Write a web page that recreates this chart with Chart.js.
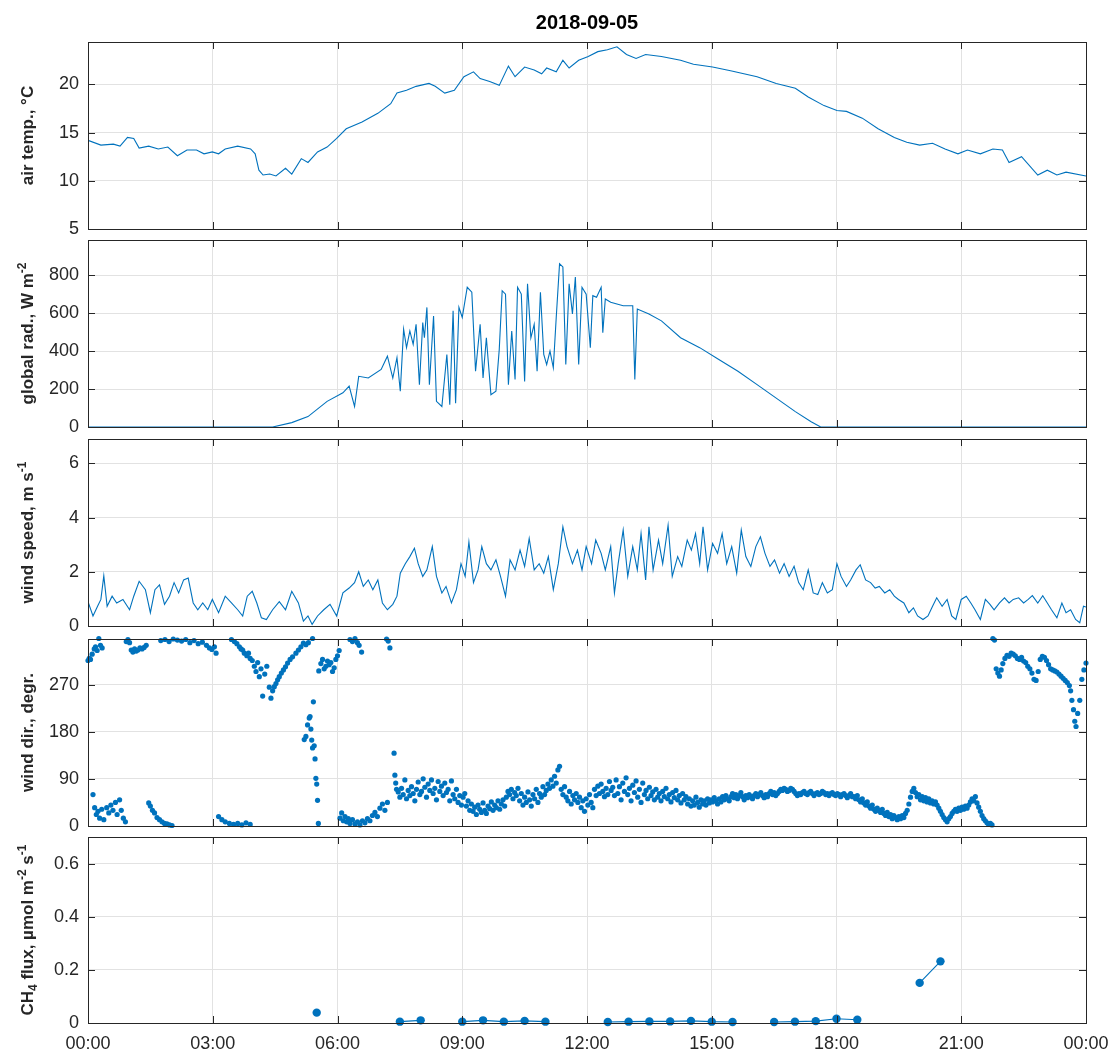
<!DOCTYPE html>
<html><head><meta charset="utf-8">
<script src="https://cdn.jsdelivr.net/npm/chart.js@4/dist/chart.umd.min.js"></script>
<style>
html,body{margin:0;padding:0;background:#fff;}
#wrap{position:relative;width:1112px;height:1056px;}
#wrap canvas{position:absolute;left:0;top:0;}
</style></head><body>
<div id="wrap">
<canvas id="p1" width="1112" height="1056"></canvas>
<canvas id="p2" width="1112" height="1056"></canvas>
<canvas id="p3" width="1112" height="1056"></canvas>
<canvas id="p4" width="1112" height="1056"></canvas>
<canvas id="p5" width="1112" height="1056"></canvas>
</div>
<script>
// ---------------- DATA (hours of the day) ----------------
const chartTitle = '2018-09-05';
const xTickLabels = ['00:00','03:00','06:00','09:00','12:00','15:00','18:00','21:00','00:00'];

// air temperature, °C
const airHours = [0,0.31,0.61,0.77,0.95,1.1,1.23,1.46,1.69,1.92,
  2.15,2.38,2.61,2.79,2.99,3.14,3.3,3.6,3.91,4.02,
  4.11,4.21,4.37,4.52,4.75,4.9,5.13,5.29,5.52,5.75,
  5.98,6.21,6.59,6.97,7.28,7.43,7.66,7.89,8.2,8.35,
  8.58,8.81,9.04,9.27,9.43,9.66,9.89,10.11,10.27,10.5,
  10.73,10.91,11.03,11.26,11.42,11.57,11.8,12.03,12.26,12.49,
  12.72,12.95,13.18,13.41,13.79,14.25,14.56,15.02,15.48,16.09,
  16.55,17.01,17.32,17.7,18.01,18.24,18.62,19.0,19.39,19.69,
  20.0,20.31,20.61,20.92,21.15,21.46,21.76,21.99,22.15,22.45,
  22.84,23.07,23.3,23.52,24];
const airTemp = [14.2,13.7,13.8,13.6,14.5,14.4,13.4,13.6,13.3,13.5,
  12.6,13.2,13.2,12.8,13.0,12.8,13.3,13.6,13.3,12.8,
  11.1,10.6,10.7,10.5,11.3,10.7,12.3,11.9,13.0,13.5,
  14.4,15.4,16.1,17.0,18.0,19.1,19.4,19.8,20.1,19.8,
  19.1,19.4,20.8,21.3,20.6,20.3,19.9,21.9,20.8,21.8,
  21.5,21.1,21.7,21.3,22.5,21.7,22.5,22.9,23.4,23.6,
  23.9,23.1,22.7,23.1,22.9,22.5,22.1,21.8,21.4,20.8,
  20.1,19.6,18.7,17.8,17.3,17.2,16.5,15.4,14.5,14.0,
  13.7,13.9,13.3,12.8,13.2,12.8,13.3,13.2,11.9,12.5,
  10.6,11.1,10.6,10.9,10.5];

// global radiation, W m-2
const radHours = [0,4.44,4.9,5.29,5.75,6.13,6.28,6.41,6.51,6.74,
  7.05,7.2,7.33,7.43,7.51,7.59,7.66,7.74,7.82,7.89,
  7.97,8.05,8.09,8.15,8.21,8.31,8.38,8.51,8.63,8.7,
  8.78,8.84,8.92,9.0,9.12,9.23,9.32,9.43,9.5,9.58,
  9.69,9.81,9.89,9.96,10.04,10.11,10.19,10.27,10.33,10.42,
  10.5,10.57,10.65,10.73,10.8,10.88,10.96,11.03,11.11,11.19,
  11.26,11.34,11.42,11.49,11.57,11.65,11.72,11.8,11.88,11.98,
  12.08,12.14,12.23,12.34,12.38,12.44,12.57,12.87,13.1,13.15,
  13.21,13.49,13.79,14.25,14.71,15.17,15.63,16.09,16.55,17.01,
  17.39,17.62,24];
const radValues = [0,0,23,55,135,180,215,108,267,258,
  303,373,258,365,188,515,418,506,435,541,
  223,550,470,630,223,585,135,108,382,117,
  612,125,630,577,736,710,294,541,258,470,
  170,188,409,718,700,223,506,250,736,700,
  240,754,470,541,294,710,382,329,400,312,
  577,860,843,329,754,595,790,329,736,700,
  418,692,683,736,497,674,657,639,639,250,
  621,595,559,470,418,356,294,223,152,81,
  28,0,0];

// wind speed, m s-1
const windHours = [0,0.12,0.23,0.31,0.38,0.46,0.58,0.69,0.84,1.0,
  1.1,1.23,1.38,1.5,1.61,1.72,1.84,1.96,2.07,2.18,
  2.3,2.41,2.53,2.64,2.76,2.88,2.99,3.14,3.3,3.45,
  3.6,3.72,3.83,3.95,4.06,4.17,4.29,4.44,4.6,4.75,
  4.9,5.06,5.18,5.29,5.39,5.52,5.67,5.82,5.98,6.13,
  6.28,6.41,6.51,6.62,6.74,6.85,6.97,7.08,7.2,7.33,
  7.43,7.51,7.63,7.74,7.85,7.94,8.05,8.15,8.28,8.38,
  8.51,8.61,8.74,8.86,8.97,9.07,9.16,9.27,9.38,9.47,
  9.58,9.69,9.81,9.92,10.04,10.15,10.27,10.39,10.5,10.61,
  10.73,10.85,10.96,11.07,11.19,11.31,11.42,11.52,11.65,11.77,
  11.88,11.98,12.11,12.21,12.34,12.44,12.57,12.66,12.75,12.87,
  12.98,13.1,13.21,13.3,13.41,13.49,13.59,13.72,13.82,13.95,
  14.05,14.18,14.28,14.41,14.51,14.61,14.71,14.79,14.9,15.02,
  15.14,15.25,15.36,15.48,15.6,15.71,15.82,15.94,16.06,16.17,
  16.28,16.4,16.51,16.63,16.74,16.86,16.98,17.09,17.2,17.32,
  17.44,17.55,17.66,17.78,17.9,18.01,18.11,18.24,18.34,18.47,
  18.57,18.7,18.82,18.93,19.03,19.16,19.28,19.39,19.49,19.62,
  19.74,19.85,19.95,20.08,20.2,20.31,20.41,20.54,20.66,20.77,
  20.87,21.0,21.12,21.23,21.33,21.46,21.58,21.69,21.79,21.92,
  22.04,22.15,22.25,22.38,22.5,22.61,22.71,22.84,22.96,23.07,
  23.17,23.3,23.42,23.52,23.63,23.75,23.85,23.94,24.0];
const windSpeed = [0.9,0.37,0.73,0.98,1.85,0.73,1.1,0.85,0.98,0.6,
  1.1,1.65,1.34,0.49,1.34,1.52,0.8,1.1,1.6,1.22,
  1.7,1.77,0.85,0.6,0.85,0.6,0.98,0.49,1.1,0.85,
  0.6,0.37,1.1,1.28,0.85,0.3,0.24,0.6,0.9,0.6,
  1.28,0.85,0.18,0.37,0.06,0.37,0.6,0.8,0.37,1.22,
  1.4,1.6,2.0,1.46,1.7,1.34,1.7,0.85,0.6,0.8,
  1.1,1.95,2.3,2.56,2.87,2.3,1.83,2.07,2.93,1.83,
  1.22,1.46,0.85,1.34,2.3,1.83,3.1,1.6,2.07,2.93,
  2.3,2.07,2.44,1.83,1.1,2.44,2.07,2.8,2.2,3.23,
  2.07,2.3,1.95,2.56,1.34,2.3,3.66,2.93,2.3,2.8,
  2.07,2.93,2.3,3.17,2.68,2.07,2.93,1.22,2.3,3.54,
  1.83,2.93,2.07,3.41,1.7,3.66,2.07,3.17,2.3,3.72,
  1.83,2.56,2.2,3.17,2.8,3.41,2.3,3.66,2.07,3.05,
  2.68,3.41,2.3,2.93,1.95,3.54,2.56,2.2,2.93,3.29,
  2.68,2.2,2.44,1.95,2.3,1.83,2.2,1.6,1.34,2.07,
  1.22,1.16,1.6,1.22,1.34,2.3,1.83,1.46,1.7,2.07,
  2.26,1.7,1.6,1.4,1.46,1.22,1.34,1.1,0.98,0.85,
  0.49,0.67,0.37,0.24,0.37,0.73,1.04,0.73,0.98,0.37,
  0.24,0.98,1.1,0.85,0.6,0.24,0.98,0.8,0.6,0.85,
  1.04,0.85,0.98,1.04,0.85,0.98,1.12,0.85,1.12,0.85,
  0.6,0.3,0.85,0.49,0.6,0.24,0.12,0.73,0.7];

// wind direction, degrees (scattered observations)
const dirHours = [
  0.00,0.03,0.06,0.10,0.15,0.18,0.22,0.26,0.30,0.34,
  0.12,0.16,0.20,0.24,0.28,0.33,0.38,0.45,0.50,0.55,0.60,0.66,0.70,0.76,0.80,0.85,0.90,
  0.92,0.96,1.00,1.04,1.08,1.12,1.16,1.20,1.25,1.30,1.35,1.40,
  1.46,1.50,1.55,1.60,1.66,1.72,1.78,1.84,1.90,1.96,2.02,
  1.75,1.85,1.95,2.05,2.15,2.25,2.35,2.45,2.55,2.65,2.75,2.85,2.92,2.98,3.04,3.08,
  3.14,3.22,3.30,3.40,3.50,3.60,3.70,3.80,3.90,
  3.45,3.52,3.58,3.64,3.68,
  3.72,3.76,3.82,3.86,3.90,3.95,4.00,4.04,4.08,4.12,4.16,4.20,4.25,4.30,4.36,4.40,4.44,4.48,4.52,4.56,
  4.60,4.65,4.70,4.75,4.80,4.86,4.92,5.00,5.06,5.12,5.18,5.24,5.30,5.40,
  5.20,5.24,5.28,5.32,5.34,5.36,5.38,5.40,5.42,5.44,5.46,5.48,5.50,5.52,5.54,
  5.55,5.60,5.64,5.68,5.72,5.76,5.80,5.84,5.88,5.92,5.96,6.00,6.04,
  6.06,6.10,6.14,6.18,6.22,6.26,6.30,6.36,6.42,6.48,6.54,6.60,6.66,6.72,6.78,6.84,6.90,6.96,7.02,7.08,7.14,7.20,
  6.30,6.36,6.42,6.48,6.52,6.58,7.18,7.22,7.26,
  7.36,7.38,7.40,7.42,
  21.76,21.80,21.84,21.88,21.92,21.96,22.00,22.05,22.10,22.15,22.20,22.25,22.30,22.35,22.40,22.45,
  22.50,22.55,22.60,22.65,22.70,22.75,22.80,22.85,22.90,22.95,
  23.00,23.05,23.10,23.15,23.20,23.25,23.30,23.35,23.40,23.45,
  23.50,23.55,23.60,23.63,23.66,23.70,23.73,23.76,23.80,23.85,23.90,23.95,24.00];
const dirDeg = [
  316,320,318,328,338,342,335,358,345,340,
  60,35,22,28,15,32,12,35,25,40,30,45,22,50,30,15,8,
  352,356,350,336,332,338,334,336,340,338,341,345,
  44,38,30,25,16,12,8,5,4,2,1,
  354,356,352,357,355,353,356,350,354,348,351,345,340,337,342,330,
  18,12,8,5,3,5,2,6,3,
  356,352,348,342,338,
  336,330,325,330,320,316,305,295,312,285,300,248,290,305,265,244,258,266,272,279,
  285,292,298,304,311,318,323,330,336,342,349,346,350,358,
  165,171,193,206,209,185,164,149,237,153,128,91,80,49,5,
  296,310,318,300,305,315,308,312,295,302,318,325,335,
  15,25,10,18,8,14,5,12,4,8,2,10,6,14,10,20,26,18,34,42,30,45,
  356,352,358,350,345,332,357,353,340,
  139,97,82,70,
  358,355,300,292,286,298,310,320,326,324,330,328,325,320,318,322,
  315,312,305,300,292,280,278,295,318,324,
  322,316,308,300,298,296,294,290,286,282,
  278,274,268,258,240,222,200,190,215,240,280,298,311];
// main easterly band, one reading every 0.04 h starting at 07.46 h
const dirBandStart = 7.46, dirBandStep = 0.04;
const dirBandDeg = [
  65,55,72,60,88,52,68,58,75,62,48,70,84,60,66,90,74,55,80,68,88,62,72,50,85,
  66,76,58,82,64,70,48,86,60,52,70,45,58,40,55,62,38,48,30,42,28,36,22,40,32,
  26,44,30,24,38,33,46,30,40,35,48,32,42,50,38,55,66,60,70,52,64,58,72,48,62,
  40,55,45,65,50,38,60,52,70,45,62,55,75,60,68,80,72,88,76,95,82,107,114,70,60,
  75,55,48,66,42,58,50,62,45,55,35,48,28,52,40,60,45,35,70,58,76,62,80,66,56,
  72,60,85,68,74,58,88,62,75,50,82,66,92,60,72,48,78,64,86,55,70,45,82,60,68,
  52,74,58,65,50,70,55,62,48,66,56,72,52,60,46,64,54,68,50,58,44,62,50,56,42,
  52,38,48,40,55,45,36,50,42,48,40,52,44,50,46,54,48,42,52,46,56,50,58,52,48,
  56,62,54,60,52,58,64,56,50,58,54,60,56,52,58,62,56,60,64,58,54,60,56,62,66,
  60,64,58,62,66,70,68,72,70,66,68,72,70,66,62,58,62,60,64,66,62,60,64,66,62,
  58,62,64,60,62,66,64,60,62,58,62,64,60,58,62,60,56,60,62,58,54,58,62,56,56,
  52,58,50,46,52,44,40,46,38,34,40,32,28,34,30,26,32,24,20,26,18,22,14,20,16,
  12,18,14,20,16,24,30,42,55,66,72,64,56,60,50,56,48,54,46,52,44,48,42,46,40,
  34,28,22,16,12,8,14,18,24,28,32,28,34,30,36,32,38,34,40,46,52,48,56,44,36,
  28,20,14,10,6,3,5,2];

// CH4 flux, µmol m-2 s-1 (half-hourly; null = no value)
const ch4Hours = [5.5,6.0,7.5,8.0,8.5,9.0,9.5,10.0,10.5,11.0,11.5,12.5,13.0,13.5,14.0,14.5,15.0,15.5,16.0,16.5,17.0,17.5,18.0,18.5,19.0,20.0,20.5];
const ch4Flux  = [0.039,null,0.005,0.010,null,0.005,0.010,0.005,0.008,0.005,null,0.004,0.005,0.006,0.006,0.008,0.005,0.004,null,0.004,0.005,0.007,0.016,0.012,null,0.151,0.232];

// ---------------- CHARTS ----------------
const FONT = '"Liberation Sans", Arial, Helvetica, sans-serif';
const INK = '#262626';
const GRID = '#e2e2e2';
const BLUE = '#0072BD';
Chart.defaults.font.family = FONT;
Chart.defaults.color = INK;

function pts(h, v) { return h.map((x, i) => ({ x: x, y: v[i] })); }
const dirAll = pts(dirHours, dirDeg).concat(dirBandDeg.map((d, i) => ({ x: +(dirBandStart + i * dirBandStep).toFixed(2), y: d })));

const lineDs = d => ({ data: d, showLine: true, borderColor: BLUE, borderWidth: 1.1, pointRadius: 0, tension: 0 });

const panels = [
  { id: 'p1', top: 42, bottom: 229, min: 5, max: 24.4, step: 5,
    label: [['air temp., \u00B0C', 0]], datasets: [lineDs(pts(airHours, airTemp))] },
  { id: 'p2', top: 240, bottom: 427, min: 0, max: 985, step: 200,
    label: [['global rad., W m', 0], ['-2', 1]], datasets: [lineDs(pts(radHours, radValues))] },
  { id: 'p3', top: 439, bottom: 626, min: 0, max: 6.9, step: 2,
    label: [['wind speed, m s', 0], ['-1', 1]], datasets: [lineDs(pts(windHours, windSpeed))] },
  { id: 'p4', top: 639, bottom: 826, min: 0, max: 357, step: 90,
    label: [['wind dir., degr.', 0]],
    datasets: [{ data: dirAll, showLine: false, pointRadius: 2.6, pointBackgroundColor: BLUE, pointBorderWidth: 0, clip: 4 }] },
  { id: 'p5', top: 837, bottom: 1023, min: 0, max: 0.7, step: 0.2,
    label: [['CH', 0], ['4', -1], [' flux, \u00B5mol m', 0], ['-2', 1], [' s', 0], ['-1', 1]],
    datasets: [{ data: pts(ch4Hours, ch4Flux), showLine: true, spanGaps: false, borderColor: BLUE, borderWidth: 1.1,
      pointRadius: 4.2, pointBackgroundColor: BLUE, pointBorderWidth: 0, clip: 6 }] }
];
const panelById = {};
panels.forEach((p, i) => { p.index = i; panelById[p.id] = p; });

const framePlugin = {
  id: 'frame',
  afterDraw(chart) {
    const p = panelById[chart.canvas.id];
    const { ctx, chartArea: a } = chart;
    const x = chart.scales.x, y = chart.scales.y;
    ctx.save();
    ctx.strokeStyle = INK; ctx.lineWidth = 1;
    const L = 7;
    ctx.beginPath();
    x.ticks.forEach(t => {
      const px = Math.round(x.getPixelForValue(t.value)) + 0.5;
      ctx.moveTo(px, a.bottom); ctx.lineTo(px, a.bottom - L);
      ctx.moveTo(px, a.top); ctx.lineTo(px, a.top + L);
    });
    y.ticks.forEach(t => {
      const py = Math.round(y.getPixelForValue(t.value)) + 0.5;
      ctx.moveTo(a.left, py); ctx.lineTo(a.left + L, py);
      ctx.moveTo(a.right, py); ctx.lineTo(a.right - L, py);
    });
    ctx.stroke();
    ctx.strokeRect(Math.round(a.left) + 0.5, Math.round(a.top) + 0.5, Math.round(a.right - a.left), Math.round(a.bottom - a.top));
    // y-axis label with super/subscripts
    const big = 'bold 17px ' + FONT, small = 'bold 12px ' + FONT;
    let w = 0;
    p.label.forEach(([t, s]) => { ctx.font = s ? small : big; w += ctx.measureText(t).width; });
    ctx.translate(33, (a.top + a.bottom) / 2);
    ctx.rotate(-Math.PI / 2);
    ctx.fillStyle = INK; ctx.textBaseline = 'alphabetic'; ctx.textAlign = 'left';
    let cx = -w / 2;
    p.label.forEach(([t, s]) => {
      ctx.font = s ? small : big;
      ctx.fillText(t, cx, s === 1 ? -7 : (s === -1 ? 4 : 0));
      cx += ctx.measureText(t).width;
    });
    ctx.restore();
    if (p.index === 0) {
      ctx.save();
      ctx.font = 'bold 20px ' + FONT; ctx.fillStyle = '#000';
      ctx.textAlign = 'center'; ctx.textBaseline = 'middle';
      ctx.fillText(chartTitle, (a.left + a.right) / 2, 23);
      ctx.restore();
    }
  }
};

// axis ticks at exact multiples of the step (the axis limits themselves are not labelled)
function stepTicks(min, max, step) {
  const out = [];
  const n0 = Math.ceil(min / step - 1e-9), n1 = Math.floor(max / step + 1e-9);
  for (let n = n0; n <= n1; n++) out.push({ value: +(n * step).toFixed(6) });
  return out;
}

panels.forEach((p, idx) => {
  const last = idx === panels.length - 1;
  const xH = last ? 33 : 0;
  new Chart(document.getElementById(p.id), {
    type: 'scatter',
    data: { datasets: p.datasets },
    options: {
      responsive: false, animation: false, devicePixelRatio: 1, events: [],
      layout: { padding: { left: 0, right: 26, top: p.top, bottom: 1056 - p.bottom - xH } },
      plugins: { legend: { display: false }, tooltip: { enabled: false } },
      scales: {
        x: {
          type: 'linear', min: 0, max: 24,
          afterBuildTicks: s => { s.ticks = stepTicks(0, 24, 3); },
          afterFit: s => { s.height = xH; s.paddingLeft = 0; s.paddingRight = 0; },
          ticks: { display: last, autoSkip: false, maxRotation: 0, padding: 10,
            color: INK, font: { size: 18 }, callback: v => xTickLabels[Math.round(v / 3)] },
          grid: { color: GRID, drawTicks: false, lineWidth: 1 },
          border: { display: false }
        },
        y: {
          type: 'linear', min: p.min, max: p.max,
          afterBuildTicks: s => { s.ticks = stepTicks(p.min, p.max, p.step); },
          afterFit: s => { s.width = 88; s.paddingTop = 0; s.paddingBottom = 0; },
          ticks: { autoSkip: false, padding: 9, color: INK, font: { size: 18 } },
          grid: { color: GRID, drawTicks: false, lineWidth: 1 },
          border: { display: false }
        }
      }
    },
    plugins: [framePlugin]
  });
});
</script>
</body></html>
